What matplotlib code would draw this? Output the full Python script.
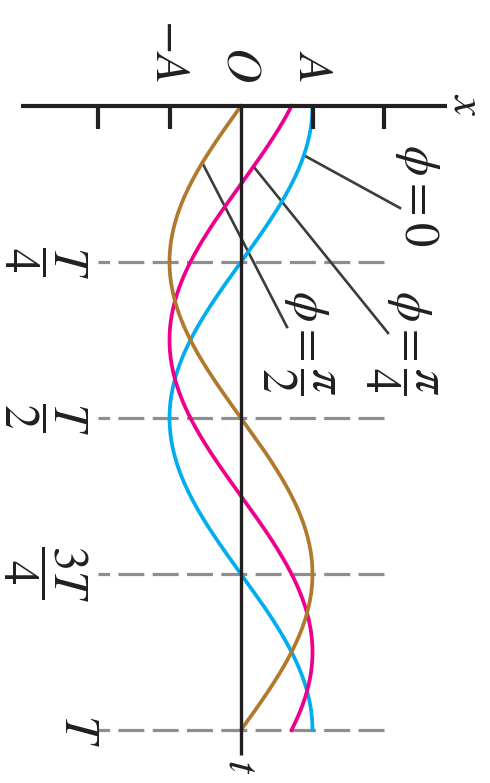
import numpy as np
import matplotlib.pyplot as plt

plt.rcParams['mathtext.fontset'] = 'stix'
plt.rcParams['lines.scale_dashes'] = False

# oscillations x = A cos(2*pi*t/T + phi), x and t in units of A and T
phases = [0, np.pi / 4, np.pi / 2]
phase_labels = [r'$\phi = 0$', r'$\phi = \dfrac{\pi}{4}$', r'$\phi = \dfrac{\pi}{2}$']
curve_colors = ['#00AEEF', '#EC008C', '#B07A2E']

t_marks = [0.25, 0.5, 0.75, 1.0]
t_labels = [r'$\dfrac{T}{4}$', r'$\dfrac{T}{2}$', r'$\dfrac{3T}{4}$', r'$T$']

x_ticks = [-2, -1, 1, 2]
x_label_pos = [-1, 0, 1]
x_labels = [r'$-A$', r'$O$', r'$A$']

# layout (pixels of the 490x783 canvas)
W, H = 490, 783
X0, A_PX = 241, 71.5      # x = 0 column and size of A
T0, T_PX = 106, 624       # t = 0 row and size of T

ink = '#231F20'
fs = 35

fig = plt.figure(figsize=(W / 100, H / 100), dpi=100)
ax = fig.add_axes([0, 0, 1, 1])
ax.axis('off')
ax.set_xlim(-X0 / A_PX, (W - X0) / A_PX)
ax.set_ylim((H - T0) / T_PX, -T0 / T_PX)

def px_x(p):
    return (p - X0) / A_PX

def px_t(p):
    return (p - T0) / T_PX

# dashed guides at the quarter periods
for tm in t_marks:
    ax.plot([2, -2], [tm, tm], color='#8E8E8E', lw=2.3, ls=(0, (18.7, 6.0)),
            solid_capstyle='butt', dash_capstyle='butt', zorder=1)

# axes with ticks
ax.plot([px_x(21), px_x(447)], [0, 0], color=ink, lw=3.0, solid_capstyle='butt', zorder=4)
ax.plot([0, 0], [0, px_t(755)], color=ink, lw=2.4, solid_capstyle='butt', zorder=4)
for xt in x_ticks:
    ax.plot([xt, xt], [0, px_t(129)], color=ink, lw=3.0, solid_capstyle='butt', zorder=4)

# the three curves
t = np.linspace(0, 1, 400)
for ph, c in zip(phases, curve_colors):
    ax.plot(np.cos(2 * np.pi * t + ph), t, color=c, lw=2.7, zorder=3)

# leader lines from each curve to its label
lead_t = [0.079, 0.097, 0.091]
lead_end = [(400, 208), (388, 333), (287, 327)]
for ph, lt, (ex, ey) in zip(phases, lead_t, lead_end):
    ax.plot([np.cos(2 * np.pi * lt + ph), px_x(ex)], [lt, px_t(ey)],
            color='#3C3C3C', lw=1.9, zorder=2)

label_pos = [(417, 195), (401, 343), (298, 343)]
for lab, (lx, ly) in zip(phase_labels, label_pos):
    ax.text(px_x(lx), px_t(ly), lab, rotation=-90, fontsize=fs, color=ink,
            ha='center', va='center')

# amplitude labels above the x axis
for xp, lab in zip(x_label_pos, x_labels):
    ax.text(xp, px_t(82), lab, rotation=-90, fontsize=fs, color=ink,
            ha='center', va='bottom')

# time labels on the left
t_label_x = [45, 45, 45, 79]
for tm, lab, lx in zip(t_marks, t_labels, t_label_x):
    ax.text(px_x(lx), tm, lab, rotation=-90, fontsize=fs, color=ink,
            ha='center', va='center')

# axis names
ax.text(px_x(467), px_t(105), r'$x$', rotation=-90, fontsize=fs - 3, color=ink,
        ha='center', va='center')
ax.text(px_x(242), px_t(767), r'$t$', rotation=-90, fontsize=fs - 3, color=ink,
        ha='center', va='center')

fig.savefig('out.png', dpi=100)
